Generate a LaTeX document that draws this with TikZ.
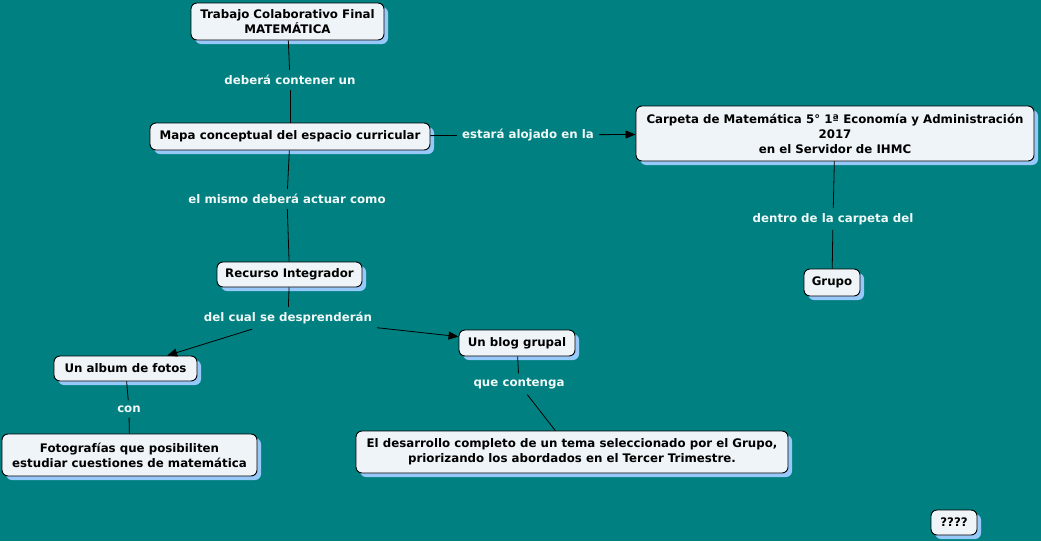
\documentclass[tikz,border=0pt]{standalone}
\usepackage{fontspec}
\setmainfont{DejaVu Sans}
\usetikzlibrary{arrows.meta,shadows}
\definecolor{bg}{RGB}{0,128,128}
\definecolor{nodefill}{RGB}{238,244,247}
\definecolor{shade}{RGB}{150,200,250}
\definecolor{linktext}{RGB}{240,248,248}
\begin{document}
\begin{tikzpicture}[x=1pt,y=-1pt,
  concept/.style={draw=black, line width=0.9pt, rounded corners=6pt, fill=nodefill,
    align=center, inner sep=0pt, font=\fontsize{11.8}{15}\selectfont\bfseries,
    general shadow={fill=shade, shadow xshift=4pt, shadow yshift=-4pt}},
  link/.style={text=linktext, font=\fontsize{11.8}{15}\selectfont\bfseries, inner sep=5pt},
  conn/.style={draw=black, line width=0.8pt},
  arr/.style={conn, -{Triangle[length=10pt,width=8pt]}}]
\path[fill=bg, use as bounding box] (0,0) rectangle (1041,541);

% concepts
\node[concept, minimum width=193pt, minimum height=37pt] (tcf) at (287.5,21.5) {Trabajo Colaborativo Final\\MATEMÁTICA};
\node[concept, minimum width=280pt, minimum height=27pt] (mapa) at (290,136.5) {Mapa conceptual del espacio curricular};
\node[concept, minimum width=398pt, minimum height=55pt] (carp) at (835,133.5) {Carpeta de Matemática 5° 1ª Economía y Administración\\2017\\en el Servidor de IHMC};
\node[concept, minimum width=145pt, minimum height=25pt] (rec) at (289.5,274.5) {Recurso Integrador};
\node[concept, minimum width=56pt, minimum height=27pt] (grupo) at (832,282.5) {Grupo};
\node[concept, minimum width=116pt, minimum height=26pt] (blog) at (517,343) {Un blog grupal};
\node[concept, minimum width=143pt, minimum height=25pt] (album) at (125.5,368.5) {Un album de fotos};
\node[concept, minimum width=255pt, minimum height=42pt] (foto) at (129.5,455) {Fotografías que posibiliten\\estudiar cuestiones de matemática};
\node[concept, minimum width=432pt, minimum height=42pt] (des) at (572,452) {El desarrollo completo de un tema seleccionado por el Grupo,\\priorizando los abordados en el Tercer Trimestre.};
\node[concept, minimum width=46pt, minimum height=25pt] (q) at (954,522.5) {????};

% linking phrases
\node[link] (l1) at (290,80) {deberá contener un};
\node[link] (l2) at (287,199) {el mismo deberá actuar como};
\node[link] (l3) at (528,135) {estará alojado en la};
\node[link] (l4) at (833,219) {dentro de la carpeta del};
\node[link] (l5) at (288,318) {del cual se desprenderán};
\node[link] (l6) at (129,409) {con};
\node[link] (l7) at (519,384) {que contenga};

% connectors
\draw[conn] (tcf) -- (l1);
\draw[conn] (l1) -- (mapa);
\draw[conn] (mapa) -- (l2);
\draw[conn] (l2) -- (rec);
\draw[conn] (mapa) -- (l3);
\draw[arr] (l3) -- (carp);
\draw[conn] (carp) -- (l4);
\draw[conn] (l4) -- (grupo);
\draw[conn] (rec) -- (l5);
\draw[arr] (l5) -- (album);
\draw[arr] (l5) -- (blog);
\draw[conn] (album) -- (l6);
\draw[conn] (l6) -- (foto);
\draw[conn] (blog) -- (l7);
\draw[conn] (l7) -- (des);
\end{tikzpicture}
\end{document}
